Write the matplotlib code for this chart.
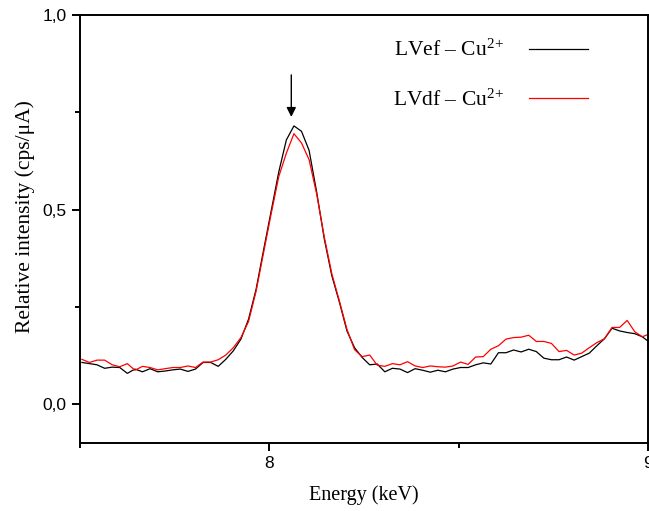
import numpy as np
import matplotlib
matplotlib.use("Agg")
import matplotlib.pyplot as plt

# ---- data ----
energy_start = 7.505
energy_step = 0.02
lvef = [0.107, 0.104, 0.101, 0.092, 0.095, 0.094, 0.079, 0.090, 0.083, 0.091,
        0.083, 0.085, 0.088, 0.090, 0.084, 0.090, 0.107, 0.107, 0.097, 0.115,
        0.137, 0.167, 0.218, 0.295, 0.397, 0.497, 0.597, 0.679, 0.715, 0.701,
        0.652, 0.545, 0.425, 0.330, 0.262, 0.188, 0.145, 0.120, 0.101, 0.103,
        0.083, 0.092, 0.090, 0.081, 0.091, 0.087, 0.082, 0.087, 0.083, 0.090,
        0.094, 0.094, 0.101, 0.106, 0.103, 0.132, 0.132, 0.139, 0.134, 0.141,
        0.135, 0.118, 0.114, 0.114, 0.121, 0.113, 0.122, 0.131, 0.150, 0.168,
        0.195, 0.188, 0.184, 0.181, 0.173, 0.158]
lvdf = [0.115, 0.107, 0.113, 0.113, 0.101, 0.096, 0.104, 0.087, 0.097, 0.094,
        0.088, 0.091, 0.094, 0.094, 0.098, 0.094, 0.108, 0.108, 0.114, 0.126,
        0.145, 0.171, 0.212, 0.290, 0.390, 0.490, 0.585, 0.645, 0.695, 0.671,
        0.628, 0.540, 0.430, 0.335, 0.265, 0.192, 0.140, 0.122, 0.126, 0.100,
        0.097, 0.104, 0.101, 0.109, 0.098, 0.094, 0.098, 0.096, 0.095, 0.098,
        0.108, 0.102, 0.121, 0.122, 0.141, 0.150, 0.167, 0.171, 0.172, 0.177,
        0.161, 0.161, 0.156, 0.135, 0.138, 0.126, 0.131, 0.145, 0.158, 0.168,
        0.197, 0.197, 0.215, 0.186, 0.173, 0.181]
energy = energy_start + energy_step * np.arange(len(lvef))
labels = ["LVef – Cu$^{2\\!+}$", "LVdf – Cu$^{2\\!+}$"]
colors = ["black", "#ff0000"]
yticks = [0.0, 0.5, 1.0]
ytick_labels = ["0,0", "0,5", "1,0"]
xticks = [8, 9]
arrow_x = 8.058
arrow_y = (0.846, 0.738)

plt.rcParams['mathtext.fontset'] = 'custom'
plt.rcParams['mathtext.rm'] = 'Liberation Serif'
plt.rcParams['mathtext.it'] = 'Liberation Serif:italic'

fig = plt.figure(figsize=(6.49, 5.11), dpi=100)
ax = fig.add_axes([80/649, 1-443/511, 568/649, 428/511])

for y, lab, c in zip([lvef, lvdf], labels, colors):
    ax.plot(energy, y, color=c, lw=0.9, label=lab)

ax.set_xlim(7.5, 9.0)
ax.set_ylim(-0.1, 1.0)
ax.set_xticks(xticks)
ax.set_xticks([7.5, 8.5], minor=True)
ax.set_yticks(yticks)
ax.set_yticklabels(ytick_labels)
ax.set_yticks([0.25, 0.75], minor=True)

for s in ax.spines.values():
    s.set_linewidth(1.4)
ax.tick_params(which='major', direction='out', length=6, width=1.4,
               labelsize=12.5, top=False, right=False)
ax.tick_params(which='minor', direction='out', length=3.5, width=1.4,
               top=False, right=False)
for t in ax.get_xticklabels() + ax.get_yticklabels():
    t.set_fontfamily('Liberation Sans')

ax.set_xlabel("Energy (keV)", fontfamily='Liberation Serif', fontsize=14.5, labelpad=10)
ax.set_ylabel("Relative intensity (cps/μA)", fontfamily='Liberation Serif', fontsize=15.5)
ax.yaxis.set_label_coords(-0.08, 0.528)

ax.annotate("", xy=(arrow_x, arrow_y[1]), xytext=(arrow_x, arrow_y[0]),
            arrowprops=dict(arrowstyle="-|>", color="black", lw=1.0,
                            mutation_scale=14, shrinkA=0, shrinkB=0))

leg = ax.legend(loc='upper left', bbox_to_anchor=(0.536, 0.962), frameon=False,
                markerfirst=False, handlelength=2.75, labelspacing=1.33,
                prop={'family': 'Liberation Serif', 'size': 15.5}, borderaxespad=0,
                handletextpad=1.16)

fig.savefig("out.png", dpi=100)
